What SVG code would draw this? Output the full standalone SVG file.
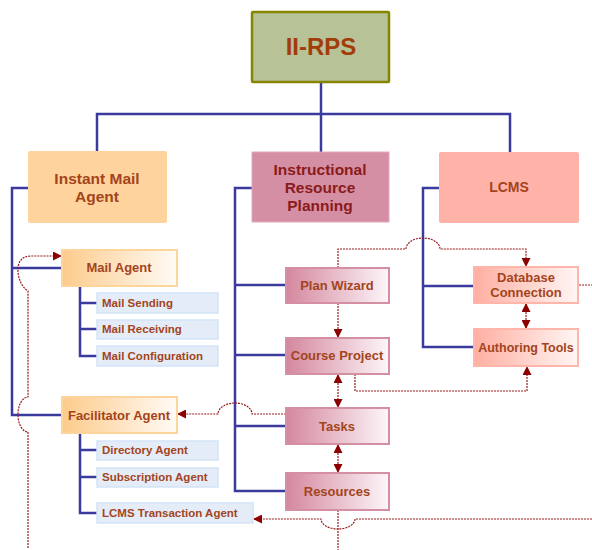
<svg xmlns="http://www.w3.org/2000/svg" width="592" height="550" viewBox="0 0 592 550">
<style>
text{font-family:"Liberation Sans",Arial,sans-serif;font-weight:bold;fill:#a3441c;text-anchor:middle}
.blue{fill:none;stroke:#3b3b9e;stroke-width:2.5}
.dot{fill:none;stroke:#9b1c1c;stroke-width:1.2;stroke-dasharray:2 1}
.sub{fill:#e4ecf8;stroke:#d2e3f7;stroke-width:1.5}
.sub+text{font-size:11.5px;text-anchor:start}
.lbl13{font-size:13px}
</style>
<defs>
<marker id="ah" viewBox="0 0 10 10" refX="10" refY="5" markerUnits="userSpaceOnUse" markerWidth="10" markerHeight="9" orient="auto-start-reverse">
<path d="M0,0 L10,5 L0,10 z" fill="#8b0000"/>
</marker>
<linearGradient id="gOr" x1="0" x2="1" y1="0" y2="0"><stop offset="0" stop-color="#fdcb8c"/><stop offset="1" stop-color="#fffbf5"/></linearGradient>
<linearGradient id="gPk" x1="0" x2="1" y1="0" y2="0"><stop offset="0" stop-color="#d4879e"/><stop offset="1" stop-color="#fdf6f9"/></linearGradient>
<linearGradient id="gSa" x1="0" x2="1" y1="0" y2="0"><stop offset="0" stop-color="#ffaea1"/><stop offset="1" stop-color="#fff6f4"/></linearGradient>
</defs>

<g id="connectors">
<path class="blue" d="M321,82 V152"/>
<path class="blue" d="M97,152 V114 H510 V152"/>
<path class="blue" d="M28,188 H12 V415 H62"/>
<path class="blue" d="M12,268 H62"/>
<path class="blue" d="M252,188 H235 V491 H286"/>
<path class="blue" d="M235,285 H286 M235,355 H286 M235,426 H286"/>
<path class="blue" d="M439,188 H423 V347 H474"/>
<path class="blue" d="M423,286 H474"/>
<path class="blue" d="M80,286 V356 H97 M80,303 H97 M80,329 H97"/>
<path class="blue" d="M80,433 V513 H97 M80,450 H97 M80,477 H97"/>

<path class="dot" d="M28,548 V432 A10,17.5 0 0 1 28,397 V291 C18,285 15,266 21,260 Q24,256 32,256 H62" marker-end="url(#ah)"/>
<path class="dot" d="M286,414 H252 A17,11 0 0 0 218,414 H177" marker-end="url(#ah)"/>
<path class="dot" d="M592,519 H355 A17,10 0 0 1 321,519 H253" marker-end="url(#ah)"/>
<path class="dot" d="M338,510 V550"/>
<path class="dot" d="M338,268 V249 H406 A17,11 0 0 1 440,249 H526 V267" marker-end="url(#ah)"/>
<path class="dot" d="M338,303 V338" marker-end="url(#ah)"/>
<path class="dot" d="M338,374 V408" marker-start="url(#ah)" marker-end="url(#ah)"/>
<path class="dot" d="M338,444 V473" marker-start="url(#ah)" marker-end="url(#ah)"/>
<path class="dot" d="M526,303 V329" marker-start="url(#ah)" marker-end="url(#ah)"/>
<path class="dot" d="M355,374 V391 H527 V366" marker-end="url(#ah)"/>
<path class="dot" d="M579,285 H592"/>
</g>

<g id="iirps">
<rect x="252" y="12" width="137" height="70" fill="#b8c297" stroke="#858500" stroke-width="2.5" rx="1"/>
<text x="321" y="55" font-size="24" fill="#a33c0b" style="fill:#a33c0b">II-RPS</text>
</g>

<g id="instant-mail-agent">
<rect x="28" y="151" width="139" height="72" fill="#fed39d" rx="2"/>
<text x="97" y="184" font-size="15.5">Instant Mail</text>
<text x="97" y="202" font-size="15.5">Agent</text>
</g>

<g id="irp">
<rect x="252" y="152" width="137" height="70" fill="#d58fa4" stroke="#e2a8ba" stroke-width="1"/>
<text x="320" y="175" font-size="15.5" style="fill:#8b1a1a">Instructional</text>
<text x="320" y="193" font-size="15.5" style="fill:#8b1a1a">Resource</text>
<text x="320" y="211" font-size="15.5" style="fill:#8b1a1a">Planning</text>
</g>

<g id="lcms">
<rect x="439" y="152" width="140" height="71" fill="#ffb3a8" rx="2"/>
<text x="509" y="192" font-size="14">LCMS</text>
</g>

<g id="mail-agent">
<rect x="62" y="250" width="115" height="36" fill="url(#gOr)" stroke="#fdd49c" stroke-width="2"/>
<text class="lbl13" x="119" y="272">Mail Agent</text>
</g>
<g id="mail-sending"><rect class="sub" x="97" y="293" width="121" height="20"/><text x="102" y="307">Mail Sending</text></g>
<g id="mail-receiving"><rect class="sub" x="97" y="320" width="121" height="19"/><text x="102" y="333">Mail Receiving</text></g>
<g id="mail-configuration"><rect class="sub" x="97" y="346" width="121" height="20"/><text x="102" y="360">Mail Configuration</text></g>

<g id="facilitator-agent">
<rect x="62" y="397" width="115" height="36" fill="url(#gOr)" stroke="#fdd49c" stroke-width="2"/>
<text class="lbl13" x="119" y="420">Facilitator Agent</text>
</g>
<g id="directory-agent"><rect class="sub" x="97" y="441" width="121" height="19"/><text x="102" y="454">Directory Agent</text></g>
<g id="subscription-agent"><rect class="sub" x="97" y="468" width="121" height="19"/><text x="102" y="481">Subscription Agent</text></g>
<g id="lcms-transaction-agent"><rect class="sub" x="97" y="503" width="156" height="20"/><text x="102" y="517">LCMS Transaction Agent</text></g>

<g id="plan-wizard">
<rect x="286" y="268" width="103" height="35" fill="url(#gPk)" stroke="#d48fa3" stroke-width="2"/>
<text class="lbl13" x="337" y="290">Plan Wizard</text>
</g>
<g id="course-project">
<rect x="286" y="338" width="103" height="36" fill="url(#gPk)" stroke="#d48fa3" stroke-width="2"/>
<text class="lbl13" x="337" y="360">Course Project</text>
</g>
<g id="tasks">
<rect x="286" y="408" width="103" height="36" fill="url(#gPk)" stroke="#d48fa3" stroke-width="2"/>
<text class="lbl13" x="337" y="431">Tasks</text>
</g>
<g id="resources">
<rect x="286" y="473" width="103" height="37" fill="url(#gPk)" stroke="#d48fa3" stroke-width="2"/>
<text class="lbl13" x="337" y="496">Resources</text>
</g>

<g id="database-connection">
<rect x="474" y="267" width="104" height="36" fill="url(#gSa)" stroke="#ffb6aa" stroke-width="2"/>
<text class="lbl13" x="526" y="282">Database</text>
<text class="lbl13" x="526" y="297">Connection</text>
</g>
<g id="authoring-tools">
<rect x="474" y="329" width="104" height="37" fill="url(#gSa)" stroke="#ffb6aa" stroke-width="2"/>
<text x="526" y="352" font-size="12.5">Authoring Tools</text>
</g>
</svg>
